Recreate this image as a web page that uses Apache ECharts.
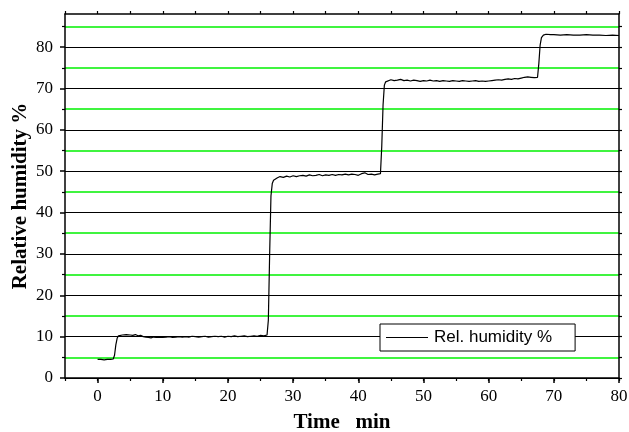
<!DOCTYPE html>
<html>
<head>
<meta charset="utf-8">
<script src="https://cdn.jsdelivr.net/npm/echarts@6/dist/echarts.min.js"></script>
<style>
  html, body { margin: 0; padding: 0; background: #fff; }
  #main { width: 629px; height: 432px; }
</style>
</head>
<body>
<div id="main"></div>
<script>
// 数据：时间 (min) 与相对湿度 (%)
var timeMin = [
  0, 0.5, 1, 1.5, 2, 2.4, 2.6, 2.8, 3.0, 3.2, 3.5, 3.8, 4.1, 4.4, 4.7, 5.0, 5.4, 5.8, 6.2, 6.6, 7.0, 7.4, 7.8,
  8.2, 8.6, 9.0, 9.5, 10, 10.5, 11, 11.5, 12, 12.5, 13, 13.5, 14, 14.5, 15, 15.5, 16, 16.5, 17, 17.5, 18,
  18.5, 19, 19.5, 20, 20.5, 21, 21.5, 22, 22.5, 23, 23.5, 24, 24.5, 25, 25.5, 26.0, 26.2, 26.4, 26.6, 26.8,
  27.0, 27.3, 27.6, 28, 28.5, 29, 29.5, 30, 30.5, 31, 31.5, 32, 32.5, 33, 33.5, 34, 34.5, 35, 35.5, 36,
  36.5, 37, 37.5, 38, 38.5, 39, 39.5, 40, 40.5, 41, 41.5, 42, 42.5, 43, 43.4, 43.6, 43.8, 44.0, 44.2, 44.5,
  45, 45.5, 46, 46.5, 47, 47.5, 48, 48.5, 49, 49.5, 50, 50.5, 51, 51.5, 52, 52.5, 53, 53.5, 54, 54.5, 55,
  55.5, 56, 56.5, 57, 57.5, 58, 58.5, 59, 59.5, 60, 60.5, 61, 61.5, 62, 62.5, 63, 63.5, 64, 64.5, 65, 65.5,
  66, 66.5, 67, 67.5, 67.7, 67.9, 68.1, 68.4, 68.8, 69.5, 70, 71, 72, 73, 74, 75, 76, 77, 78, 79, 80
];
var humidity = [
  4.5, 4.5, 4.4, 4.5, 4.5, 4.6, 5.5, 8.0, 9.6, 10.2, 10.3, 10.4, 10.3, 10.5, 10.2, 10.4, 10.3, 10.5, 10.2, 10.3, 10.0, 9.9, 9.8,
  9.7, 9.9, 9.8, 9.9, 9.8, 9.9, 10.0, 9.8, 9.9, 10.0, 9.9, 10.0, 9.9, 10.1, 10.0, 9.9, 10.0, 10.1, 9.9, 10.0, 10.1,
  10.0, 10.1, 9.9, 10.1, 10.0, 10.2, 10.0, 10.1, 10.2, 10.0, 10.1, 10.2, 10.1, 10.3, 10.2, 10.4, 14, 30, 44, 47.0,
  47.8, 48.2, 48.4, 48.7, 48.5, 48.8, 48.6, 48.9, 48.7, 48.9, 49.0, 48.8, 49.1, 48.9, 49.0, 49.2, 48.9, 49.1, 49.0, 49.2,
  49.0, 49.2, 49.1, 49.3, 49.1, 49.3, 49.2, 49.0, 49.4, 49.6, 49.2, 49.3, 49.1, 49.3, 49.4, 56, 66, 70.8, 71.6, 71.9,
  72.1, 71.9, 72.0, 72.2, 71.9, 72.0, 71.8, 72.0, 71.9, 71.7, 71.9, 71.8, 72.0, 71.8, 71.9, 71.7, 71.9, 71.8, 71.7, 71.9, 71.8,
  71.7, 71.9, 71.8, 71.7, 71.8, 71.9, 71.7, 71.8, 71.7, 71.8, 71.9, 72.0, 72.1, 72.0, 72.2, 72.3, 72.2, 72.4, 72.3, 72.5, 72.7,
  72.8, 72.7, 72.6, 72.7, 76, 80.5, 82.3, 82.9, 83.1, 83.0, 83.0, 82.9, 83.0, 82.9, 82.9, 83.0, 82.9, 82.9, 82.8, 82.9, 82.8
];
var xTickLabels = [0, 10, 20, 30, 40, 50, 60, 70, 80];
var yTickLabels = [0, 10, 20, 30, 40, 50, 60, 70, 80];
var yMinorTicks = [5, 15, 25, 35, 45, 55, 65, 75, 85];
var yRightTicks = [0, 5, 10, 15, 20, 25, 30, 35, 40, 45, 50, 55, 60, 65, 70, 75, 80, 85];
var seriesName = 'Rel. humidity %';

var lineData = [];
for (var i = 0; i < timeMin.length; i++) {
  lineData.push([timeMin[i], humidity[i]]);
}

var serif = '"Liberation Serif", "Times New Roman", serif';
var myChart = echarts.init(document.getElementById('main'));

var option = {
  animation: false,
  backgroundColor: '#fff',
  grid: { left: 65, right: 10, top: 14, bottom: 54, outerBoundsMode: 'none' },
  legend: {
    data: [{ name: seriesName, icon: 'rect' }],
    left: 380, top: 324,
    backgroundColor: '#fff',
    borderColor: '#000', borderWidth: 1,
    borderRadius: 0,
    padding: [5, 23, 5, 6],
    itemWidth: 42, itemHeight: 1.2, itemGap: 0,
    textStyle: { fontFamily: '"Liberation Sans", Arial, sans-serif', fontSize: 17, color: '#000', padding: [0, 0, 0, 1] }
  },
  xAxis: [{
    type: 'value', position: 'bottom',
    min: -5, max: 80, interval: 5,
    name: 'Time   min', nameLocation: 'middle', nameGap: 34,
    nameTextStyle: { fontFamily: serif, fontWeight: 'bold', fontSize: 21, color: '#000' },
    axisLine: { onZero: false, lineStyle: { color: '#000', width: 1.5 } },
    axisTick: { inside: false, length: 5, customValues: xTickLabels, lineStyle: { color: '#000', width: 1.5 } },
    axisLabel: { customValues: xTickLabels, fontFamily: serif, fontSize: 17, color: '#000', margin: 10 },
    splitLine: { show: false }
  }, {
    type: 'value', position: 'bottom',
    min: -5, max: 80, interval: 5,
    axisLine: { show: false, onZero: false },
    axisTick: { length: 3, lineStyle: { color: '#000', width: 1.2 } },
    axisLabel: { show: false },
    splitLine: { show: false }
  }, {
    type: 'value', position: 'top',
    min: -5, max: 80, interval: 5,
    axisLine: { onZero: false, lineStyle: { color: '#000', width: 1.5 } },
    axisTick: { length: 3, lineStyle: { color: '#000', width: 1.2 } },
    axisLabel: { show: false },
    splitLine: { show: false }
  }],
  yAxis: [{
    type: 'value', position: 'left',
    min: 0, max: 88, interval: 10,
    name: 'Relative humidity %', nameLocation: 'middle', nameGap: 34,
    nameMoveOverlap: false,
    nameTextStyle: { fontFamily: serif, fontWeight: 'bold', fontSize: 21, color: '#000' },
    axisLine: { onZero: false, lineStyle: { color: '#000', width: 1.5 } },
    axisTick: { length: 5, customValues: yTickLabels, lineStyle: { color: '#000', width: 1.5 } },
    axisLabel: { customValues: yTickLabels, fontFamily: serif, fontSize: 17, color: '#000', margin: 12 },
    splitLine: { show: true, lineStyle: { color: '#000', width: 1 } }
  }, {
    type: 'value', position: 'left',
    min: 0, max: 88, interval: 5,
    axisLine: { show: false, onZero: false },
    axisTick: { length: 3, customValues: yMinorTicks, lineStyle: { color: '#000', width: 1.2 } },
    axisLabel: { show: false },
    splitLine: { show: true, lineStyle: { color: '#00f000', width: 1.6 } }
  }, {
    type: 'value', position: 'right',
    min: 0, max: 88, interval: 5,
    axisLine: { show: true, onZero: false, lineStyle: { color: '#000', width: 1.5 } },
    axisTick: { show: true, length: 3, customValues: yRightTicks, lineStyle: { color: '#000', width: 1.2 } },
    axisLabel: { show: false },
    splitLine: { show: false }
  }],
  series: [{
    name: seriesName,
    type: 'line',
    xAxisIndex: 0, yAxisIndex: 0,
    data: lineData,
    symbol: 'none',
    lineStyle: { color: '#000', width: 1.2 },
    itemStyle: { color: '#000' },
    z: 5
  }]
};

myChart.setOption(option);
</script>
</body>
</html>
